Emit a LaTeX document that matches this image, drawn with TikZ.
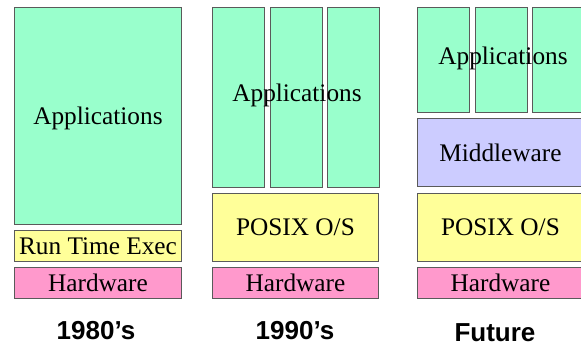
\documentclass[tikz,border=0pt]{standalone}
\usepackage{fontspec}
\setmainfont{Liberation Serif}
\newfontfamily\labfont{Liberation Sans}
\definecolor{appg}{RGB}{153,255,204}
\definecolor{osy}{RGB}{255,255,153}
\definecolor{hwp}{RGB}{255,153,204}
\definecolor{mwb}{RGB}{204,204,255}
\definecolor{edge}{RGB}{90,90,90}
\begin{document}
\begin{tikzpicture}[x=1pt,y=-1pt,
  layer/.style={draw=edge,line width=0.9pt,rectangle,inner sep=0pt,anchor=north west,
    text depth=0pt,font=\fontsize{25.3}{29}\selectfont},
  era/.style={font=\labfont\bfseries\fontsize{26}{30}\selectfont,inner sep=0pt},
  txt/.style={font=\fontsize{25.3}{29}\selectfont,inner sep=0pt,text depth=0pt}]
\useasboundingbox (0,0) rectangle (581,349);
\begin{scope}
\clip (0,0) rectangle (581,349);
% 1980s
\node[layer,fill=appg,minimum width=167pt,minimum height=217pt] (a1) at (14,7) {Applications};
\node[layer,fill=osy,minimum width=167pt,minimum height=31pt] (r1) at (14,230) {Run Time Exec};
\node[layer,fill=hwp,minimum width=167pt,minimum height=31pt] (h1) at (14,267) {Hardware};
\node[era] (e1) at (96,331) {1980’s};
% 1990s
\node[layer,fill=appg,minimum width=52pt,minimum height=180pt] (a2a) at (212,7) {};
\node[layer,fill=appg,minimum width=52pt,minimum height=180pt] (a2b) at (269.5,7) {};
\node[layer,fill=appg,minimum width=52pt,minimum height=180pt] (a2c) at (327,7) {};
\node[txt] (t2) at (297,93) {Applications};
\node[layer,fill=osy,minimum width=166pt,minimum height=68pt] (p2) at (212,193) {POSIX O/S};
\node[layer,fill=hwp,minimum width=166pt,minimum height=31pt] (h2) at (212,267) {Hardware};
\node[era] (e2) at (295,331) {1990’s};
% Future
\node[layer,fill=appg,minimum width=52pt,minimum height=105pt] (a3a) at (417,7) {};
\node[layer,fill=appg,minimum width=52pt,minimum height=105pt] (a3b) at (474.5,7) {};
\node[layer,fill=appg,minimum width=52pt,minimum height=105pt] (a3c) at (532,7) {};
\node[txt] (t3) at (503,56) {Applications};
\node[layer,fill=mwb,minimum width=166pt,minimum height=68pt] (m3) at (417,118) {Middleware};
\node[layer,fill=osy,minimum width=166pt,minimum height=68pt] (p3) at (417,193) {POSIX O/S};
\node[layer,fill=hwp,minimum width=166pt,minimum height=31pt] (h3) at (417,267) {Hardware};
\node[era] (e3) at (495,333) {Future};
\end{scope}
\end{tikzpicture}
\end{document}
